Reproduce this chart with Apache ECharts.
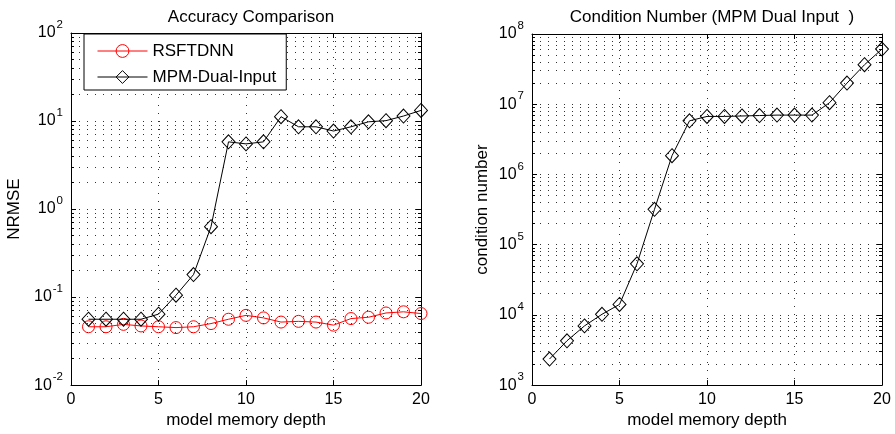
<!DOCTYPE html>
<html>
<head>
<meta charset="utf-8">
<script src="https://cdn.jsdelivr.net/npm/echarts@6/dist/echarts.min.js"></script>
<style>
  html, body { margin: 0; padding: 0; background: #fff; }
  #chart { width: 895px; height: 434px; }
</style>
</head>
<body>
<div id="chart"></div>
<script>
// Model memory depth (x values shared by both panels)
const depth = [1, 2, 3, 4, 5, 6, 7, 8, 9, 10, 11, 12, 13, 14, 15, 16, 17, 18, 19, 20];

// NRMSE per memory depth
const rsftdnnNrmse = [0.046, 0.046, 0.049, 0.047, 0.046, 0.045, 0.046, 0.050, 0.056, 0.062,
                      0.058, 0.052, 0.053, 0.052, 0.048, 0.057, 0.059, 0.066, 0.068, 0.065];
const mpmNrmse = [0.056, 0.056, 0.056, 0.056, 0.064, 0.105, 0.18, 0.63, 5.8, 5.5,
                  5.8, 11.2, 8.6, 8.6, 7.7, 8.6, 9.8, 10.1, 11.4, 13.2];

// Condition number of the MPM dual-input model
const mpmCond = [2350, 4280, 6970, 10200, 14100, 53400, 319000, 1.85e6, 5.8e6, 6.7e6,
                 6.7e6, 6.8e6, 6.9e6, 7.0e6, 7.0e6, 7.0e6, 1.05e7, 2.0e7, 3.65e7, 6.1e7];

// Axis ticks
const xTicks = [0, 5, 10, 15, 20];
const leftExponents = [-2, -1, 0, 1, 2];
const rightExponents = [3, 4, 5, 6, 7, 8];
const minorFactors = [2, 3, 4, 5, 6, 7, 8, 9];

const FONT = 'Liberation Sans, Arial, sans-serif';
const X_MIN = xTicks[0], X_MAX = xTicks[xTicks.length - 1];
const X_STEP = xTicks[1] - xTicks[0];

function pairs(ys) { return depth.map((d, i) => [d, ys[i]]); }

function minorValues(exps) {
  const out = [];
  for (let i = 0; i < exps.length - 1; i++) {
    minorFactors.forEach(f => out.push(f * Math.pow(10, exps[i])));
  }
  return out;
}

function powLabel(v) {
  const e = Math.round(Math.log10(v));
  return '{b|10}{e|' + e + '}';
}

const powRich = {
  b: { fontSize: 16, fontFamily: FONT, color: '#000', lineHeight: 28 },
  e: { fontSize: 11.5, fontFamily: FONT, color: '#000', verticalAlign: 'top', lineHeight: 12, padding: [0, 0, 0, 1] }
};

const dotted = { color: '#333', width: 1, type: [1, 7] };

function xAxes(gridIndex) {
  return [
    {
      type: 'value', gridIndex, min: X_MIN, max: X_MAX, interval: X_STEP,
      position: 'bottom',
      name: 'model memory depth', nameLocation: 'middle', nameGap: 26,
      nameTextStyle: { fontSize: 17, fontFamily: FONT, color: '#000' },
      axisLine: { show: true, onZero: false, lineStyle: { color: '#000', width: 1 } },
      axisTick: { show: true, inside: true, length: 5, lineStyle: { color: '#000' } },
      axisLabel: { fontSize: 16, fontFamily: FONT, color: '#000', margin: 6 },
      splitLine: { show: true, lineStyle: dotted }
    },
    {
      type: 'value', gridIndex, min: X_MIN, max: X_MAX, interval: X_STEP,
      position: 'top',
      axisLine: { show: true, onZero: false, lineStyle: { color: '#000', width: 1 } },
      axisTick: { show: true, inside: true, length: 5, lineStyle: { color: '#000' } },
      axisLabel: { show: false },
      splitLine: { show: false }
    }
  ];
}

function yAxes(gridIndex, exps, name, nameGap) {
  const min = Math.pow(10, exps[0]), max = Math.pow(10, exps[exps.length - 1]);
  return [
    {
      type: 'log', logBase: 10, gridIndex, min, max, position: 'left',
      name, nameLocation: 'middle', nameGap,
      nameTextStyle: { fontSize: 17, fontFamily: FONT, color: '#000' },
      axisLine: { show: true, onZero: false, lineStyle: { color: '#000', width: 1 } },
      axisTick: { show: true, inside: true, length: 5, lineStyle: { color: '#000' } },
      axisLabel: { formatter: powLabel, rich: powRich, margin: 8 },
      splitLine: { show: true, lineStyle: dotted }
    },
    {
      type: 'log', logBase: 10, gridIndex, min, max, position: 'right',
      axisLine: { show: true, onZero: false, lineStyle: { color: '#000', width: 1 } },
      axisTick: { show: true, inside: true, length: 5, lineStyle: { color: '#000' } },
      axisLabel: { show: false },
      splitLine: { show: false }
    }
  ];
}

// Dotted minor grid lines and inward minor ticks for a log panel
function minorSeries(xIdx, yIdx, exps) {
  const vals = minorValues(exps);
  const tickLen = 0.17;
  return [
    {
      type: 'line', xAxisIndex: xIdx, yAxisIndex: yIdx, data: [], silent: true, z: 1,
      markLine: {
        silent: true, symbol: 'none', label: { show: false }, animation: false,
        lineStyle: dotted,
        data: vals.map(v => ({ yAxis: v }))
      }
    },
    {
      type: 'line', xAxisIndex: xIdx, yAxisIndex: yIdx, data: [], silent: true, z: 3,
      markLine: {
        silent: true, symbol: 'none', label: { show: false }, animation: false,
        lineStyle: { color: '#000', width: 1, type: 'solid' },
        data: vals.flatMap(v => [
          [{ coord: [X_MIN, v] }, { coord: [X_MIN + tickLen, v] }],
          [{ coord: [X_MAX, v] }, { coord: [X_MAX - tickLen, v] }]
        ])
      }
    }
  ];
}

const option = {
  animation: false,
  backgroundColor: '#fff',
  title: [
    { text: 'Accuracy Comparison', left: 246, top: 4, textAlign: 'center',
      textStyle: { fontSize: 17, fontWeight: 'normal', fontFamily: FONT, color: '#000' } },
    { text: 'Condition Number (MPM Dual Input  )', left: 707, top: 4, textAlign: 'center',
      textStyle: { fontSize: 17, fontWeight: 'normal', fontFamily: FONT, color: '#000' } }
  ],
  legend: {
    data: ['RSFTDNN', 'MPM-Dual-Input'],
    orient: 'vertical', left: 84, top: 34,
    backgroundColor: '#fff', borderColor: '#000', borderWidth: 1,
    padding: [8, 10, 4, 13], itemGap: 8,
    itemWidth: 50, itemHeight: 16,
    lineStyle: { width: 1 },
    itemStyle: { borderWidth: 1 },
    textStyle: { fontSize: 17, fontFamily: FONT, color: '#000', lineHeight: 18 },
    z: 10
  },
  grid: [
    { left: 71, top: 33, width: 350, height: 355 },
    { left: 532, top: 34, width: 350, height: 354 }
  ],
  xAxis: [...xAxes(0), ...xAxes(1)],
  yAxis: [...yAxes(0, leftExponents, 'NRMSE', 48), ...yAxes(1, rightExponents, 'condition number', 41)],
  series: [
    ...minorSeries(0, 0, leftExponents),
    ...minorSeries(2, 2, rightExponents),
    {
      name: 'RSFTDNN', type: 'line', xAxisIndex: 0, yAxisIndex: 0,
      data: pairs(rsftdnnNrmse),
      symbol: 'circle', symbolSize: 12,
      itemStyle: { color: 'rgba(0,0,0,0)', borderColor: '#ff0000', borderWidth: 1 },
      lineStyle: { color: '#ff0000', width: 1 },
      z: 4
    },
    {
      name: 'MPM-Dual-Input', type: 'line', xAxisIndex: 0, yAxisIndex: 0,
      data: pairs(mpmNrmse),
      symbol: 'diamond', symbolSize: [13, 14],
      itemStyle: { color: 'rgba(0,0,0,0)', borderColor: '#000', borderWidth: 1 },
      lineStyle: { color: '#000', width: 1 },
      z: 5
    },
    {
      name: 'Condition number', type: 'line', xAxisIndex: 2, yAxisIndex: 2,
      data: pairs(mpmCond),
      symbol: 'diamond', symbolSize: [13, 14],
      itemStyle: { color: 'rgba(0,0,0,0)', borderColor: '#000', borderWidth: 1 },
      lineStyle: { color: '#000', width: 1 },
      z: 5
    }
  ]
};

const chart = echarts.init(document.getElementById('chart'), null, { renderer: 'canvas' });
chart.setOption(option);
</script>
</body>
</html>
